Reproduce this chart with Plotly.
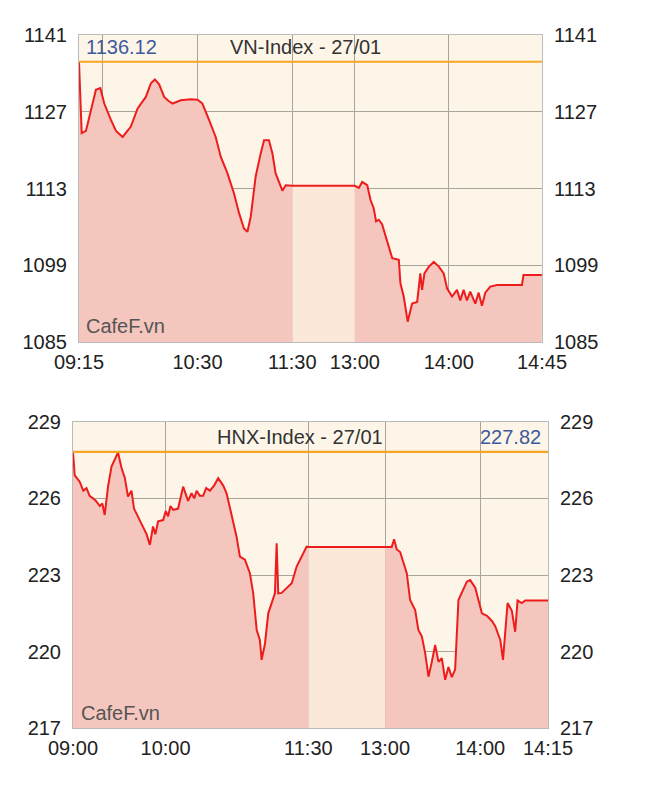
import plotly.graph_objects as go

# ---------------- DATA ----------------
# x values are chart-axis minutes (VN: 0 = 09:15, lunch break compressed)
vn_morning_t = [0, 0.8, 1.7, 4.4, 7.6, 10.7, 13.5, 16.0, 20.2, 23.4, 27.6, 32.8, 37.1, 42.3, 45.5,
                48.0, 50.7, 53.9, 56.5, 59.2, 64.4, 70.8, 75.0, 78.1, 82.3, 86.5, 89.7, 93.9, 98.1,
                101.3, 104.4, 106.6, 108.7, 111.8, 115.0, 117.1, 120.2, 122.4, 124.4, 126.5, 128.7,
                130.8, 135.0]
vn_morning_v = [1136.1, 1128.0, 1123.1, 1123.5, 1127.3, 1131.0, 1131.3, 1128.5, 1125.5, 1123.5,
                1122.4, 1124.3, 1127.6, 1129.7, 1132.2, 1132.9, 1132.0, 1129.7, 1129.0, 1128.5,
                1129.1, 1129.3, 1129.2, 1128.5, 1125.5, 1122.4, 1118.8, 1115.8, 1112.1, 1108.5,
                1105.7, 1105.1, 1107.9, 1115.2, 1119.4, 1121.8, 1121.8, 1119.4, 1115.8, 1114.2,
                1112.6, 1113.6, 1113.5]
vn_lunch_t = [135.0, 174.6]
vn_lunch_v = [1113.5, 1113.5]
vn_afternoon_t = [174.6, 177.1, 179.2, 182.4, 184.5, 186.5, 188.0, 189.7, 191.8, 195.0, 198.2,
                  202.4, 203.4, 205.5, 208.0, 210.8, 214.0, 216.0, 217.1, 218.6, 221.3, 224.5,
                  227.6, 230.8, 232.9, 236.1, 239.2, 241.3, 243.4, 245.5, 247.6, 250.8, 252.9,
                  255.0, 257.1, 260.3, 264.5, 280.3, 281.3, 292.9]
vn_afternoon_v = [1113.5, 1113.1, 1114.2, 1113.6, 1110.9, 1109.4, 1107.0, 1107.3, 1106.5, 1103.6,
                  1100.3, 1100.0, 1095.7, 1093.3, 1088.7, 1092.0, 1092.3, 1097.5, 1094.5, 1097.5,
                  1098.7, 1099.6, 1098.8, 1097.5, 1094.8, 1093.3, 1094.5, 1092.6, 1094.5, 1092.6,
                  1094.2, 1092.0, 1094.0, 1091.6, 1094.0, 1095.1, 1095.4, 1095.4, 1097.2, 1097.2]
vn_ref = 1136.12
vn_ticks = [0, 15, 75, 135, 174.6, 234, 293]
vn_ticktext = ["09:15", "", "10:30", "11:30", "13:00", "14:00", "14:45"]
vn_yticks = [1085, 1099, 1113, 1127, 1141]

# HNX: 0 = 09:00
hnx_morning_t = [0, 1.1, 4.2, 6.5, 8.5, 10.5, 12.6, 14.5, 16.9, 18.5, 20.0, 22.1, 24.3, 28.4, 30.6,
                 32.7, 34.7, 36.9, 38.5, 40.0, 43.2, 46.4, 48.5, 50.5, 52.0, 53.7, 56.9, 58.5, 60.0,
                 61.5, 63.2, 66.3, 69.5, 72.6, 74.8, 76.5, 78.0, 80.0, 82.1, 84.0, 86.4, 89.0, 91.6,
                 94.8, 96.9, 99.0, 101.1, 103.2, 105.3, 108.5, 111.6, 113.7, 115.9, 117.9, 119.0,
                 121.1, 123.2, 125.3, 127.4, 128.5, 129.5, 131.6, 134.8, 138.0, 141.1, 144.3, 147.4,
                 148.5]
hnx_morning_v = [227.8, 226.9, 226.65, 226.3, 226.4, 226.1, 226.0, 225.9, 225.7, 225.8, 225.35,
                 226.46, 227.24, 227.8, 227.2, 226.8, 226.07, 226.3, 225.6, 225.4, 225.0, 224.6,
                 224.18, 224.9, 224.6, 225.1, 225.15, 225.5, 225.3, 225.7, 225.55, 225.6, 226.46,
                 225.9, 226.2, 226.0, 226.3, 226.1, 226.1, 226.4, 226.3, 226.5, 226.79, 226.5,
                 226.2, 225.6, 225.0, 224.5, 223.72, 223.6, 223.07, 222.28, 220.85, 220.46, 219.68,
                 220.3, 221.5, 221.9, 222.28, 224.24, 222.28, 222.3, 222.5, 222.68, 223.33, 223.72,
                 224.11, 224.1]
hnx_lunch_t = [148.5, 196.9]
hnx_lunch_v = [224.1, 224.1]
hnx_afternoon_t = [196.9, 201.1, 202.6, 204.3, 206.4, 208.5, 210.6, 212.7, 215.9, 217.9, 220.1,
                   222.2, 224.3, 226.4, 228.5, 230.6, 232.7, 234.8, 236.9, 239.0, 241.1, 243.2,
                   245.4, 248.5, 250.6, 253.8, 255.9, 258.0, 261.2, 264.3, 266.4, 269.6, 271.3,
                   272.7, 274.2, 276.9, 279.0, 280.5, 283.2, 285.3, 299.7]
hnx_afternoon_v = [224.1, 224.1, 224.4, 224.0, 223.9, 223.46, 223.07, 222.02, 221.63, 220.85, 220.6,
                   219.94, 219.02, 219.6, 220.26, 219.6, 219.75, 218.9, 219.4, 219.0, 219.3, 222.02,
                   222.35, 222.74, 222.8, 222.5, 222.0, 221.5, 221.4, 221.2, 221.0, 220.46, 219.68,
                   220.7, 221.9, 221.6, 220.78, 222.0, 221.9, 222.0, 222.0]
hnx_ref = 227.82
hnx_ticks = [0, 58.4, 148.5, 196.9, 256.9, 299.7]
hnx_ticktext = ["09:00", "10:00", "11:30", "13:00", "14:00", "14:15"]
hnx_yticks = [217, 220, 223, 226, 229]

# ---------------- STYLE ----------------
OFF = 8                    # page body margin
W, H = 645 - 2 * OFF, 793 - 2 * OFF
BG = "#fdf6e8"
FILL = "#f4c6bd"
LUNCH = "#fbe8d8"
RED = "#ee1c1c"
ORANGE = "#f5a623"
GRID = "#a8a39b"
FONT = "Liberation Sans"
FS = 20


def pxx(x):
    return (x - OFF) / W


def pxy(y):
    return 1 - (y - OFF) / H


fig = go.Figure()


def add_panel(xa, ya, mt, mv, lt, lv, at, av, ref):
    xr = "x" if xa == 1 else f"x{xa}"
    yr = "y" if ya == 1 else f"y{ya}"
    for t, v, c in [(mt, mv, FILL), (lt, lv, LUNCH), (at, av, FILL)]:
        fig.add_trace(go.Scatter(x=t, y=v, mode="lines", line=dict(width=0), fill="tozeroy",
                                 fillcolor=c, xaxis=xr, yaxis=yr, hoverinfo="skip",
                                 showlegend=False))
    fig.add_trace(go.Scatter(x=mt + lt[1:] + at[1:], y=mv + lv[1:] + av[1:], mode="lines",
                             line=dict(color=RED, width=2), xaxis=xr, yaxis=yr, showlegend=False))
    fig.add_trace(go.Scatter(x=[mt[0], at[-1]], y=[ref, ref], mode="lines",
                             line=dict(color=ORANGE, width=2.2), xaxis=xr, yaxis=yr,
                             showlegend=False))


add_panel(1, 1, vn_morning_t, vn_morning_v, vn_lunch_t, vn_lunch_v, vn_afternoon_t, vn_afternoon_v, vn_ref)
add_panel(2, 3, hnx_morning_t, hnx_morning_v, hnx_lunch_t, hnx_lunch_v, hnx_afternoon_t, hnx_afternoon_v, hnx_ref)

# twin y axes on the right (dummy invisible traces)
fig.add_trace(go.Scatter(x=[0], y=[1100], xaxis="x", yaxis="y2", mode="markers",
                         marker=dict(opacity=0), showlegend=False, hoverinfo="skip"))
fig.add_trace(go.Scatter(x=[0], y=[220], xaxis="x2", yaxis="y4", mode="markers",
                         marker=dict(opacity=0), showlegend=False, hoverinfo="skip"))

tickfont = dict(family=FONT, size=FS, color="#222")

x1d = [pxx(79), pxx(542)]
y1d = [pxy(342), pxy(35)]
x2d = [pxx(73), pxx(548)]
y2d = [pxy(728.3), pxy(421.7)]

common = dict(showgrid=True, gridcolor=GRID, gridwidth=1, tickfont=tickfont, ticks="",
              showline=True, linecolor="#bbb", linewidth=1, mirror=True, zeroline=False,
              tickmode="array", fixedrange=True, automargin=False)

fig.update_layout(
    width=W, height=H, margin=dict(l=0, r=0, t=0, b=0),
    paper_bgcolor="white", plot_bgcolor=BG, showlegend=False,
    xaxis=dict(common, domain=x1d, range=[0, 293], tickvals=vn_ticks, ticktext=vn_ticktext,
               anchor="y", ticklabelstandoff=2),
    yaxis=dict(common, domain=y1d, range=[1085, 1141], tickvals=vn_yticks, anchor="x",
               ticklabelstandoff=7),
    yaxis2=dict(common, domain=y1d, range=[1085, 1141], tickvals=vn_yticks, overlaying="y",
                side="right", anchor="x", showgrid=False, ticklabelstandoff=7),
    xaxis2=dict(common, domain=x2d, range=[0, 299.7], tickvals=hnx_ticks,
                ticktext=hnx_ticktext, anchor="y3", ticklabelstandoff=2),
    yaxis3=dict(common, domain=y2d, range=[217, 229], tickvals=hnx_yticks, anchor="x2",
                ticklabelstandoff=7),
    yaxis4=dict(common, domain=y2d, range=[217, 229], tickvals=hnx_yticks, overlaying="y3",
                side="right", anchor="x2", showgrid=False, ticklabelstandoff=7),
)

ann = []
def add_text(x, y, text, color, xanchor):
    ann.append(dict(x=pxx(x), y=pxy(y), xref="paper", yref="paper", text=text, showarrow=False,
                    xanchor=xanchor, yanchor="middle", font=dict(family=FONT, size=FS, color=color)))

add_text(84, 47, f"{vn_ref:.2f}", "#3d5a9e", "left")
add_text(305, 47, "VN-Index - 27/01", "#333", "center")
add_text(84, 326, "CafeF.vn", "#555", "left")
add_text(300, 437, "HNX-Index - 27/01", "#333", "center")
add_text(543, 437, f"{hnx_ref:.2f}", "#3d5a9e", "right")
add_text(79, 713, "CafeF.vn", "#555", "left")
fig.update_layout(annotations=ann)

fig.write_html("out.html")
